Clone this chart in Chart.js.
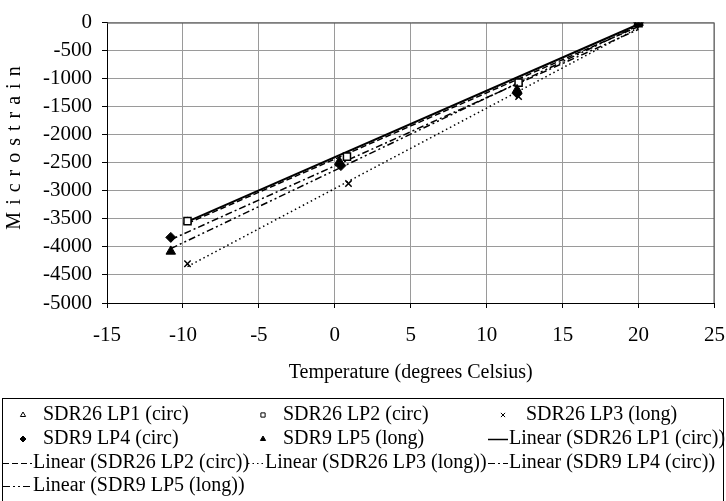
<!DOCTYPE html>
<html>
<head>
<meta charset="utf-8">
<script src="https://cdn.jsdelivr.net/npm/chart.js@4"></script>
<style>
  html, body { margin: 0; padding: 0; background: #fff; }
  #wrap { width: 726px; height: 501px; }
</style>
</head>
<body>
<div id="wrap"><canvas id="strainChart" width="726" height="501"></canvas></div>
<script>
// measured points, temperature (deg C) vs microstrain
const lp1Temp = [-9.7, 0.8, 12.1, 20];
const lp1Strain = [-3545, -2395, -1065, 0];
const lp2Temp = [-9.7, 0.8, 12.1, 20];
const lp2Strain = [-3540, -2390, -1070, -10];
const lp3Temp = [-9.7, 0.9, 12.1, 20];
const lp3Strain = [-4300, -2870, -1320, 0];
const lp4Temp = [-10.8, 0.4, 12.0, 20];
const lp4Strain = [-3830, -2550, -1260, 0];
const lp5Temp = [-10.8, 0.3, 12.0, 20];
const lp5Strain = [-4080, -2480, -1200, 0];

const trendTemp = [[-9.7, 20], [-9.7, 20], [-9.7, 20], [-10.8, 20], [-10.8, 20]];
const trendStrain = [[-3550, -30], [-3580, -70], [-4350, -90], [-3870, -120], [-4030, -50]];

const seriesNames = ['SDR26 LP1 (circ)', 'SDR26 LP2 (circ)', 'SDR26 LP3 (long)', 'SDR9 LP4 (circ)', 'SDR9 LP5 (long)'];
const xTicks = [-15, 25, 5];
const yTicks = [-5000, 0, 500];

const FONT = 'Liberation Serif';
const toPts = (xs, ys) => xs.map((x, i) => ({ x: x, y: ys[i] }));

const markers = [
  { pointStyle: 'triangle', pointRadius: 4.5, pointBackgroundColor: '#fff', pointBorderColor: '#000', pointBorderWidth: 1 },
  { pointStyle: 'rect', pointRadius: 5, pointBackgroundColor: '#fff', pointBorderColor: '#000', pointBorderWidth: 1.5 },
  { pointStyle: 'crossRot', pointRadius: 4.5, pointBackgroundColor: '#000', pointBorderColor: '#000', pointBorderWidth: 1.5 },
  { pointStyle: 'rectRot', pointRadius: 5, pointBackgroundColor: '#000', pointBorderColor: '#000', pointBorderWidth: 1 },
  { pointStyle: 'triangle', pointRadius: 5.5, pointBackgroundColor: '#000', pointBorderColor: '#000', pointBorderWidth: 1 }
];
// lower order is drawn on top: filled marks over the open ones
const markOrder = [5, 4, 3, 2, 1];
const dashes = [[], [6, 3], [1.5, 3], [7, 3, 2, 3], [7, 3, 2, 3, 2, 3]];
const widths = [2, 1.5, 1.5, 1.5, 1.5];

const pointSets = [
  toPts(lp1Temp, lp1Strain), toPts(lp2Temp, lp2Strain), toPts(lp3Temp, lp3Strain),
  toPts(lp4Temp, lp4Strain), toPts(lp5Temp, lp5Strain)
];

const datasets = [];
pointSets.forEach((pts, i) => {
  datasets.push(Object.assign({
    label: seriesNames[i],
    data: pts,
    showLine: false,
    order: markOrder[i]
  }, markers[i]));
});
trendTemp.forEach((xs, i) => {
  datasets.push({
    label: 'Linear (' + seriesNames[i] + ')',
    data: toPts(xs, trendStrain[i]),
    showLine: true,
    pointRadius: 0,
    borderColor: '#000',
    borderWidth: widths[i],
    borderDash: dashes[i],
    fill: false,
    order: 10 + i
  });
});

// y axis title with spaced letters
const yTitlePlugin = {
  id: 'yTitle',
  afterDraw(chart) {
    const ctx = chart.ctx;
    ctx.save();
    ctx.font = '20px "' + FONT + '"';
    ctx.letterSpacing = '7px';
    ctx.fillStyle = '#000';
    ctx.textAlign = 'center';
    ctx.textBaseline = 'middle';
    ctx.translate(15, 148);
    ctx.rotate(-Math.PI / 2);
    ctx.fillText('Microstrain', 3.5, 0);
    ctx.restore();
  }
};

// dark frame round the plot area
const framePlugin = {
  id: 'frame',
  beforeDatasetsDraw(chart) {
    const a = chart.chartArea;
    const ctx = chart.ctx;
    ctx.save();
    ctx.strokeStyle = '#555';
    ctx.lineWidth = 1;
    ctx.beginPath();
    ctx.moveTo(a.left, a.top + 0.5);
    ctx.lineTo(a.right - 0.5, a.top + 0.5);
    ctx.lineTo(a.right - 0.5, a.bottom);
    ctx.stroke();
    ctx.restore();
  }
};

// boxed legend in three columns, like the spreadsheet one
const boxLegendPlugin = {
  id: 'boxLegend',
  afterDraw(chart) {
    const ctx = chart.ctx;
    const rows = [415, 439, 463, 486];
    const cols = [
      { lineFrom: 3, lineTo: 32, text: 33, mark: 23, markText: 43 },
      { lineFrom: 248, lineTo: 263, text: 265, mark: 263, markText: 283 },
      { lineFrom: 488, lineTo: 508, text: 509, mark: 503, markText: 526 }
    ];
    ctx.save();
    ctx.strokeStyle = '#000';
    ctx.lineWidth = 1;
    ctx.strokeRect(2.5, 398.5, 721, 110);
    ctx.font = '20px "' + FONT + '"';
    ctx.textBaseline = 'middle';
    ctx.textAlign = 'left';
    chart.data.datasets.forEach((ds, i) => {
      const c = cols[i % 3];
      const y = rows[Math.floor(i / 3)];
      ctx.fillStyle = '#000';
      if (ds.showLine) {
        ctx.save();
        ctx.strokeStyle = '#000';
        ctx.lineWidth = ds.borderWidth > 1.5 ? 1.5 : 1.2;
        ctx.setLineDash(ds.borderDash);
        ctx.beginPath();
        ctx.moveTo(c.lineFrom, y + 0.5);
        ctx.lineTo(c.lineTo, y + 0.5);
        ctx.stroke();
        ctx.restore();
        ctx.fillText(ds.label, c.text, y);
      } else {
        ctx.save();
        ctx.fillStyle = ds.pointBackgroundColor;
        ctx.strokeStyle = ds.pointBorderColor;
        Chart.helpers.drawPoint(ctx, {
          pointStyle: ds.pointStyle, radius: 3, rotation: 0, borderWidth: 1
        }, c.mark, y);
        ctx.restore();
        ctx.fillText(ds.label, c.markText, y);
      }
    });
    ctx.restore();
  }
};

const ctx = document.getElementById('strainChart').getContext('2d');
const strainChart = new Chart(ctx, {
  type: 'scatter',
  data: { datasets: datasets },
  plugins: [framePlugin, yTitlePlugin, boxLegendPlugin],
  options: {
    responsive: false,
    animation: false,
    layout: { padding: { left: 0, right: 0, top: 13, bottom: 114 } },
    plugins: {
      legend: { display: false },
      tooltip: { enabled: false }
    },
    scales: {
      x: {
        type: 'linear',
        min: xTicks[0],
        max: xTicks[1],
        afterFit(scale) { scale.height = 84; },
        ticks: {
          stepSize: xTicks[2],
          color: '#000',
          padding: 1,
          maxRotation: 0,
          autoSkip: false,
          callback: (v) => String(v),
          font: { family: FONT, size: 21, lineHeight: 2.5 }
        },
        grid: {
          color: '#9a9a9a',
          borderDash: [6, 3],
          tickColor: '#000',
          tickBorderDash: [],
          tickLength: 5
        },
        border: { display: true, color: '#000', width: 1 },
        title: {
          display: true,
          text: 'Temperature (degrees Celsius)',
          color: '#000',
          font: { family: FONT, size: 20 },
          padding: { top: 0, bottom: 2 }
        }
      },
      y: {
        type: 'linear',
        min: yTicks[0],
        max: yTicks[1],
        afterFit(scale) { scale.width = 107; },
        ticks: {
          stepSize: yTicks[2],
          color: '#000',
          padding: 10,
          autoSkip: false,
          callback: (v) => String(v),
          font: { family: FONT, size: 21 }
        },
        grid: {
          color: '#9a9a9a',
          borderDash: [6, 3],
          tickColor: '#000',
          tickBorderDash: [],
          tickLength: 5
        },
        border: { display: true, color: '#000', width: 1 }
      }
    }
  }
});
</script>
</body>
</html>
